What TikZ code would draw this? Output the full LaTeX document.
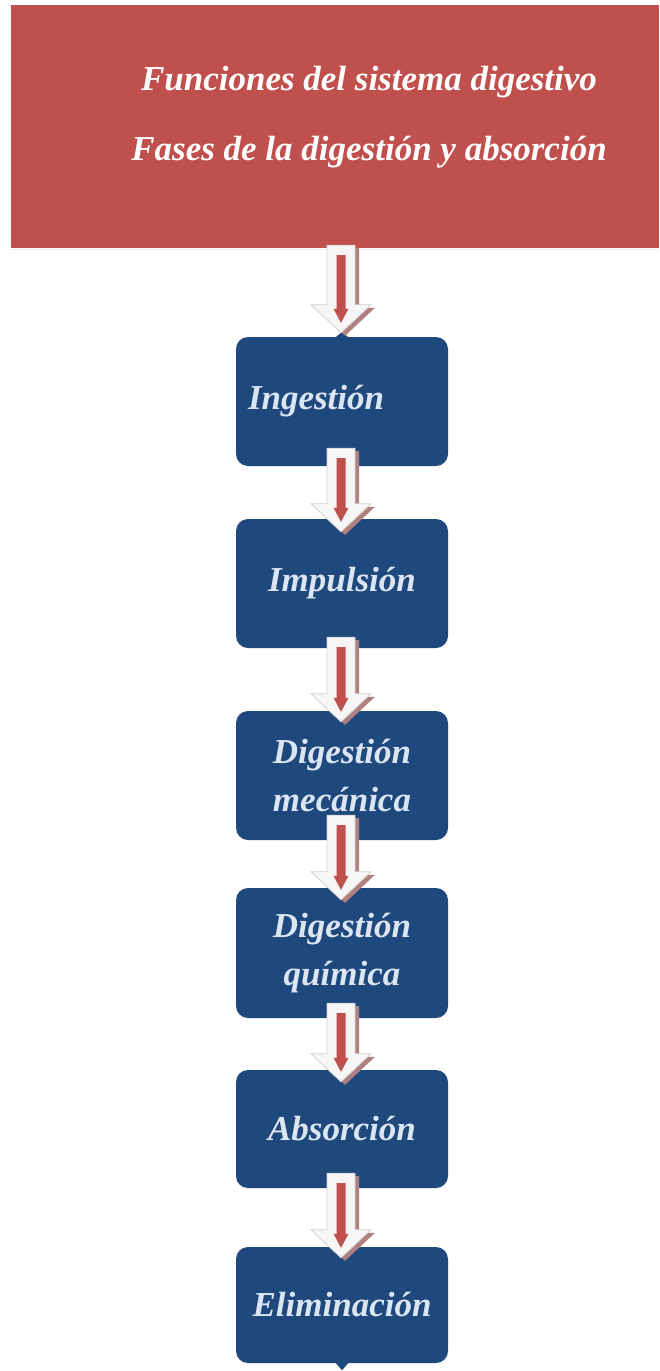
\documentclass[tikz,border=0pt]{standalone}
\usepackage{fontspec}
\setmainfont{Liberation Serif}
\usetikzlibrary{calc}
\definecolor{titlered}{RGB}{192,80,77}
\definecolor{boxblue}{RGB}{31,73,125}
\definecolor{boxtext}{RGB}{220,230,242}
\definecolor{arrshadow}{RGB}{176,128,128}
\definecolor{arredge}{RGB}{210,210,210}
\definecolor{arrfill}{RGB}{246,246,246}
\definecolor{stripe}{RGB}{192,80,77}
\newcommand\arrbody[4]{($(#1)+({-14+#3},{#4})$) -- ($(#1)+({14+#3},{#4})$) -- ($(#2)+({14+#3},{28+#4})$) -- ($(#2)+({30+#3},{28+#4})$) -- ($(#2)+({#3},{#4})$) -- ($(#2)+({-30+#3},{28+#4})$) -- ($(#2)+({-14+#3},{28+#4})$) -- cycle}
\newcommand\blockarr[2]{%
  \fill[arrshadow] \arrbody{#1}{#2}{4}{-3};
  \draw[arredge, fill=arrfill, line width=0.8pt] \arrbody{#1}{#2}{0}{0};
  \fill[stripe] ($(#1)+(-4.5,-10)$) -- ($(#1)+(4.5,-10)$) -- ($(#2)+(4.5,24)$) -- ($(#2)+(7.5,24)$) -- ($(#2)+(0,10)$) -- ($(#2)+(-7.5,24)$) -- ($(#2)+(-4.5,24)$) -- cycle;
}
\tikzset{
  stepbox/.style={rounded corners=12pt, fill=boxblue, minimum width=212pt, text=boxtext, align=center,
    font=\fontsize{35}{48}\selectfont\bfseries\itshape, inner sep=0pt},
  titlebox/.style={fill=titlered, minimum width=648pt, minimum height=243pt, inner sep=0pt},
  titletxt/.style={text=white, align=center, font=\fontsize{35}{70}\selectfont\bfseries\itshape, inner sep=0pt}
}
\begin{document}
\begin{tikzpicture}[x=1pt,y=1pt]
\useasboundingbox (0,0) rectangle (659,-1371);
\fill[white] (0,0) rectangle (659,-1371);
\node[titlebox] (title) at (335,-126.5) {};
\draw[gray!15, line width=1.5pt] ($(title.south west)+(0,-1.5)$) -- ($(title.south east)+(0,-1.5)$);
\node[titletxt] (titletext) at (369,-117) {Funciones del sistema digestivo\\Fases de la digestión y absorción};
\node[stepbox, minimum height=129pt, text width=188pt, align=left, inner xsep=12pt] (b1) at (342,-401.5) {Ingestión};
\node[stepbox, minimum height=129pt] (b2) at (342,-583.5) {Impulsión};
\node[stepbox, minimum height=129pt] (b3) at (342,-775.5) {Digestión\\mecánica};
\node[stepbox, minimum height=130pt] (b4) at (342,-953) {Digestión\\química};
\node[stepbox, minimum height=118pt] (b5) at (342,-1129) {Absorción};
\node[stepbox, minimum height=116pt] (b6) at (342,-1305) {Eliminación};
\fill[boxblue] ($(b1.north)+(-7,-1)$) -- ($(b1.north)+(0,5)$) -- ($(b1.north)+(7,-1)$) -- cycle;
\fill[boxblue] ($(b6.south)+(-7,1)$) -- ($(b6.south)+(0,-7)$) -- ($(b6.south)+(7,1)$) -- cycle;
\coordinate (a1s) at ($(b1.north|-title.south)+(-1,3)$);
\coordinate (a1e) at ($(b1.north)+(-1,4)$);
\coordinate (a2s) at ($(b1.south)+(-1,18)$);
\coordinate (a2e) at ($(b2.north)+(-1,-13)$);
\coordinate (a3s) at ($(b2.south)+(-1,11)$);
\coordinate (a3e) at ($(b3.north)+(-1,-11)$);
\coordinate (a4s) at ($(b3.south)+(-1,25)$);
\coordinate (a4e) at ($(b4.north)+(-1,-12)$);
\coordinate (a5s) at ($(b4.south)+(-1,15)$);
\coordinate (a5e) at ($(b5.north)+(-1,-12)$);
\coordinate (a6s) at ($(b5.south)+(-1,15)$);
\coordinate (a6e) at ($(b6.north)+(-1,-11)$);
\blockarr{a1s}{a1e}
\blockarr{a2s}{a2e}
\blockarr{a3s}{a3e}
\blockarr{a4s}{a4e}
\blockarr{a5s}{a5e}
\blockarr{a6s}{a6e}
\end{tikzpicture}
\end{document}
